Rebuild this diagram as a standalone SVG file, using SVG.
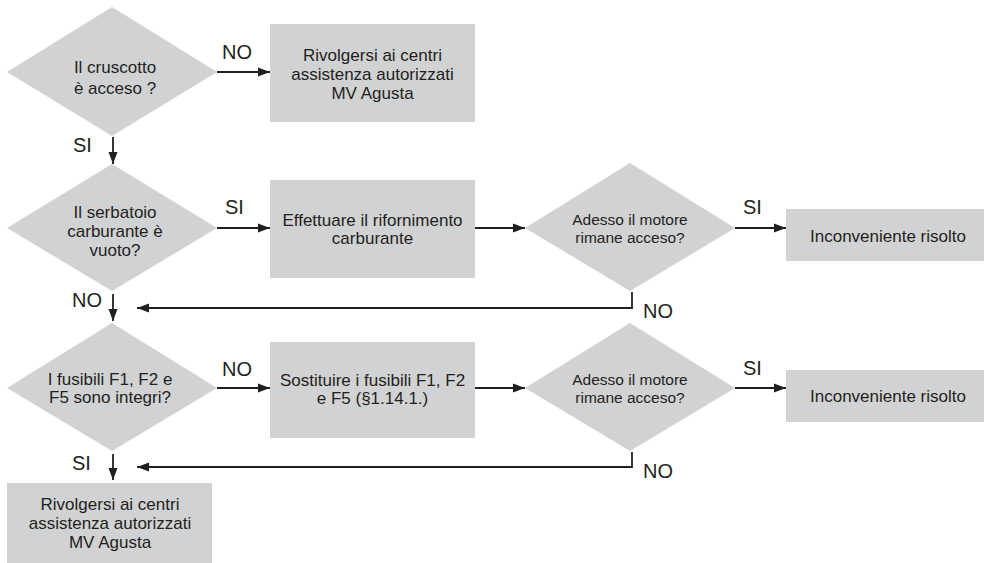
<svg xmlns="http://www.w3.org/2000/svg" width="985" height="563" viewBox="0 0 985 563">
<style>
.shape{fill:#d1d2d3;stroke:none}
text{font-family:"Liberation Sans",Arial,Helvetica,sans-serif;fill:#231f20;text-anchor:middle}
.t{font-size:17px}
.ts{font-size:15.5px}
.lbl{font-size:20px;text-anchor:start}
.conn{fill:none;stroke:#231f20;stroke-width:1.8}
</style>
<defs>
<marker id="ah" markerUnits="userSpaceOnUse" markerWidth="13" markerHeight="10" refX="12" refY="5" orient="auto">
<path d="M0,0.5 L12,5 L0,9.5 z" fill="#231f20"/>
</marker>
</defs>
<rect width="985" height="563" fill="#ffffff"/>

<g id="d1">
<polygon class="shape" points="7,72 112,7 217,72 112,136"/>
<text class="t" x="115" y="73">Il cruscotto</text>
<text class="t" x="115" y="94">è acceso ?</text>
</g>
<g id="b1">
<rect class="shape" x="270" y="24" width="205" height="98"/>
<text class="t" x="372.5" y="61">Rivolgersi ai centri</text>
<text class="t" x="372.5" y="80">assistenza autorizzati</text>
<text class="t" x="372.5" y="99">MV Agusta</text>
</g>
<g id="d2">
<polygon class="shape" points="7,228 112,164 217,228 112,291"/>
<text class="t" x="115" y="218">Il serbatoio</text>
<text class="t" x="115" y="237">carburante è</text>
<text class="t" x="115" y="256">vuoto?</text>
</g>
<g id="b2">
<rect class="shape" x="270" y="180" width="205" height="98"/>
<text class="t" x="372.5" y="226">Effettuare il rifornimento</text>
<text class="t" x="372.5" y="244">carburante</text>
</g>
<g id="d3">
<polygon class="shape" points="525,228 630,163 735,228 630,291"/>
<text class="ts" x="630" y="225">Adesso il motore</text>
<text class="ts" x="630" y="243">rimane acceso?</text>
</g>
<g id="b3">
<rect class="shape" x="786" y="209" width="198" height="52"/>
<text class="t" x="888" y="242">Inconveniente risolto</text>
</g>
<g id="d4">
<polygon class="shape" points="7,388 112,323 217,388 112,451"/>
<text class="t" x="110" y="385">I fusibili F1, F2 e</text>
<text class="t" x="110" y="403">F5 sono integri?</text>
</g>
<g id="b4">
<rect class="shape" x="270" y="342" width="205" height="96"/>
<text class="t" x="372.5" y="386">Sostituire i fusibili F1, F2</text>
<text class="t" x="372.5" y="404">e F5 (§1.14.1.)</text>
</g>
<g id="d5">
<polygon class="shape" points="525,388 630,323 735,388 630,451"/>
<text class="ts" x="630" y="385">Adesso il motore</text>
<text class="ts" x="630" y="403">rimane acceso?</text>
</g>
<g id="b5">
<rect class="shape" x="786" y="370" width="198" height="52"/>
<text class="t" x="888" y="402">Inconveniente risolto</text>
</g>
<g id="b6">
<rect class="shape" x="7" y="483" width="205" height="80"/>
<text class="t" x="110" y="510">Rivolgersi ai centri</text>
<text class="t" x="110" y="529">assistenza autorizzati</text>
<text class="t" x="110" y="548">MV Agusta</text>
</g>

<g id="connectors">
<line class="conn" x1="217" y1="72" x2="270" y2="72" marker-end="url(#ah)"/>
<line class="conn" x1="113" y1="137" x2="113" y2="164" marker-end="url(#ah)"/>
<line class="conn" x1="217" y1="228" x2="270" y2="228" marker-end="url(#ah)"/>
<line class="conn" x1="475" y1="228" x2="525" y2="228" marker-end="url(#ah)"/>
<line class="conn" x1="735" y1="228" x2="786" y2="228" marker-end="url(#ah)"/>
<path class="conn" d="M632,292 V308 H137" marker-end="url(#ah)"/>
<line class="conn" x1="113" y1="294" x2="113" y2="321" marker-end="url(#ah)"/>
<line class="conn" x1="217" y1="388" x2="270" y2="388" marker-end="url(#ah)"/>
<line class="conn" x1="475" y1="388" x2="525" y2="388" marker-end="url(#ah)"/>
<line class="conn" x1="735" y1="388" x2="786" y2="388" marker-end="url(#ah)"/>
<path class="conn" d="M632,452 V467 H137" marker-end="url(#ah)"/>
<line class="conn" x1="113" y1="454" x2="113" y2="480" marker-end="url(#ah)"/>
</g>

<g id="labels">
<text class="lbl" x="222" y="59">NO</text>
<text class="lbl" x="73" y="152">SI</text>
<text class="lbl" x="225" y="214">SI</text>
<text class="lbl" x="743" y="214">SI</text>
<text class="lbl" x="643" y="318">NO</text>
<text class="lbl" x="72" y="307">NO</text>
<text class="lbl" x="222" y="376">NO</text>
<text class="lbl" x="743" y="375">SI</text>
<text class="lbl" x="643" y="478">NO</text>
<text class="lbl" x="72" y="470">SI</text>
</g>
</svg>
